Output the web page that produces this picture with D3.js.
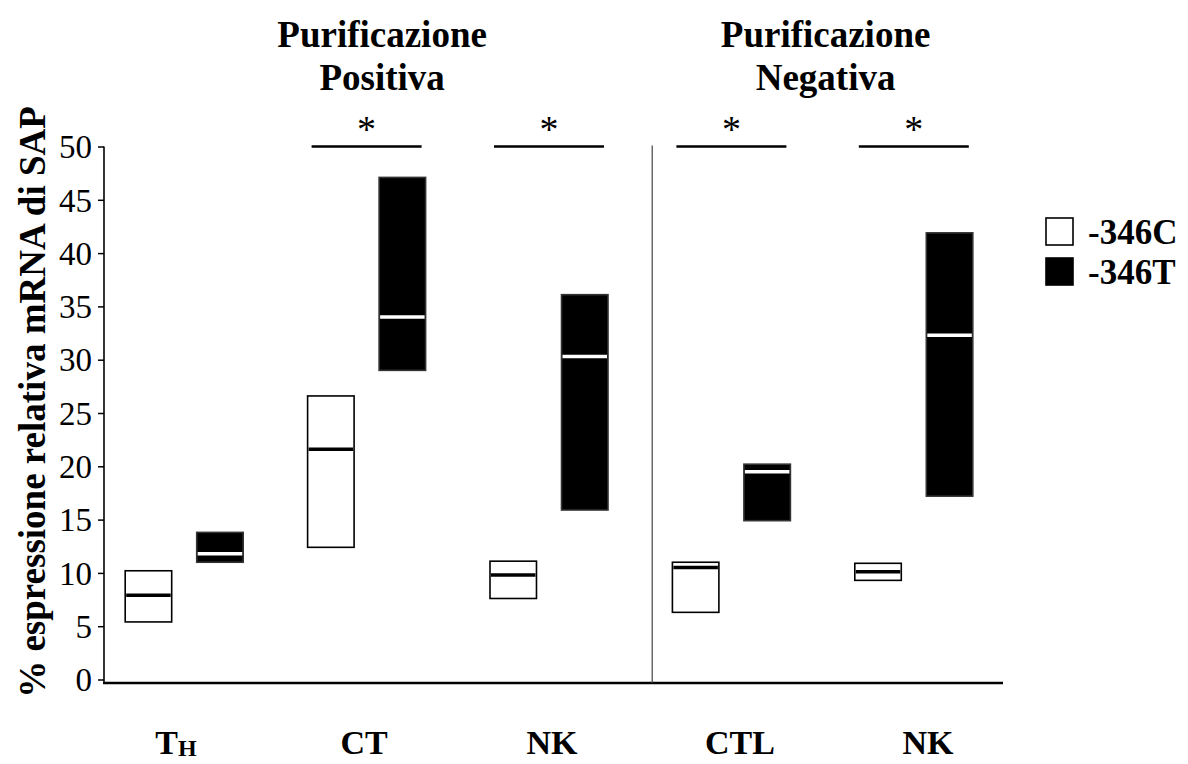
<!DOCTYPE html>
<html>
<head>
<meta charset="utf-8">
<script src="https://cdnjs.cloudflare.com/ajax/libs/d3/7.8.5/d3.min.js"></script>
<style>
  body { margin: 0; background: #fff; }
  text { font-family: "Liberation Serif", "Times New Roman", serif; fill: #000; }
</style>
</head>
<body>
<div id="chart"></div>
<script>

// cell populations along x
const groups      = ['TH', 'CT', 'NK', 'CTL', 'NK2'];
const groupLabels = ['T', 'CT', 'NK', 'CTL', 'NK'];
const groupSubs   = ['H', '', '', '', ''];

const alleles = ['-346C', '-346T'];

// -346C : min / median / max
const lowC  = [5.4, 12.4, 7.6, 6.3, 9.3];
const medC  = [7.9, 21.6, 9.8, 10.5, 10.1];
const highC = [10.2, 26.6, 11.1, 11.0, 10.9];

// -346T : min / median / max
const lowT  = [11.0, 29.0, 15.9, 14.9, 17.2];
const medT  = [11.8, 34.0, 30.3, 19.5, 32.3];
const highT = [13.8, 47.1, 36.1, 20.2, 41.9];

const panelTitles = [['Purificazione', 'Positiva'], ['Purificazione', 'Negativa']];

// groups with a significant difference
const sigGroups = ['CT', 'NK', 'CTL', 'NK2'];

const yTicks = [0, 5, 10, 15, 20, 25, 30, 35, 40, 45, 50];
const yTitle = '% espressione relativa mRNA di SAP';


class SapChart {

  constructor(_parentContainer) {
    this.parentContainer = _parentContainer;

    this.widthTotal  = 1188;
    this.heightTotal = 764;

    this.svg = d3.select(this.parentContainer)
        .append('svg')
        .attr('width', this.widthTotal)
        .attr('height', this.heightTotal);

    this.rows = [];
    groups.forEach((g, i) => {
      this.rows.push({ group: g, allele: alleles[0], low: lowC[i], med: medC[i], high: highC[i] });
      this.rows.push({ group: g, allele: alleles[1], low: lowT[i], med: medT[i], high: highT[i] });
    });

    this.createScales();
    this.addAxes();
    this.addBoxes();
    this.addAnnotations();
    this.addLegend();
  }


  createScales() {
    this.axisX  = 104;
    this.xAxisY = 683;

    this.yScale = d3.scaleLinear()
        .domain([0, 50])
        .range([679.5, 146.5]);

    this.xScale = d3.scaleBand()
        .domain(groups)
        .range([93, 1005])
        .padding(0);

    // C / T inside one group, centred on the group
    this.xInner = d3.scaleBand()
        .domain(alleles)
        .range([-59, 59])
        .paddingInner(0.35);

    // labels under the axis sit a bit more evenly than the boxes
    this.xLabel = d3.scalePoint()
        .domain(groups)
        .range([176, 928]);

    this.center = g => this.xScale(g) + this.xScale.bandwidth() / 2;
  }


  addAxes() {
    const yAxisCall = d3.axisLeft(this.yScale)
        .tickValues(yTicks)
        .tickSize(6)
        .tickSizeOuter(0)
        .tickPadding(6);

    const yAxis = this.svg.append('g')
        .attr('class', 'y-axis')
        .attr('transform', `translate(${this.axisX}, 0)`)
        .call(yAxisCall);

    yAxis.select('.domain').remove();
    yAxis.selectAll('line').attr('stroke', '#000').attr('stroke-width', 1.5);
    yAxis.selectAll('text')
        .style('font-family', '"Liberation Serif", serif')
        .style('font-size', '33px')
        .attr('dy', '0.34em');

    // axis lines
    this.svg.append('line')
        .attr('x1', this.axisX).attr('x2', this.axisX)
        .attr('y1', this.yScale(50)).attr('y2', this.xAxisY)
        .attr('stroke', '#000').attr('stroke-width', 1.6);

    this.svg.append('line')
        .attr('x1', this.axisX - 1).attr('x2', 1003)
        .attr('y1', this.xAxisY).attr('y2', this.xAxisY)
        .attr('stroke', '#000').attr('stroke-width', 2.5);

    this.svg.append('text')
        .attr('transform', `translate(45, 402) rotate(-90)`)
        .attr('text-anchor', 'middle')
        .style('font-size', '37px')
        .style('font-weight', 'bold')
        .text(yTitle);

    // group labels under the axis
    const lab = this.svg.selectAll('.group-label')
        .data(groups)
        .enter().append('text')
        .attr('class', 'group-label')
        .attr('x', d => this.xLabel(d))
        .attr('y', 754)
        .attr('text-anchor', 'middle')
        .style('font-size', '34px')
        .style('font-weight', 'bold');

    lab.append('tspan').text((d, i) => groupLabels[i]);
    lab.append('tspan')
        .attr('dy', 2)
        .style('font-size', '24px')
        .text((d, i) => groupSubs[i]);
  }


  addBoxes() {
    const w = this.xInner.bandwidth();
    const boxX = d => this.center(d.group) + this.xInner(d.allele);

    const box = this.svg.selectAll('.box')
        .data(this.rows)
        .enter().append('g')
        .attr('class', 'box');

    box.append('rect')
        .attr('x', d => boxX(d))
        .attr('y', d => this.yScale(d.high))
        .attr('width', w)
        .attr('height', d => this.yScale(d.low) - this.yScale(d.high))
        .attr('fill', d => d.allele === alleles[0] ? '#fff' : '#000')
        .attr('stroke', d => d.allele === alleles[0] ? '#000' : '#333')
        .attr('stroke-width', 1.6);

    box.append('line')
        .attr('x1', d => boxX(d) + 1)
        .attr('x2', d => boxX(d) + w - 1)
        .attr('y1', d => this.yScale(d.med))
        .attr('y2', d => this.yScale(d.med))
        .attr('stroke', d => d.allele === alleles[0] ? '#000' : '#fff')
        .attr('stroke-width', 3.5);
  }


  addAnnotations() {
    // vertical divider between positive / negative purification
    const divX = this.xScale('CTL') + 12;
    this.svg.append('line')
        .attr('x1', divX).attr('x2', divX)
        .attr('y1', this.yScale(50) - 1).attr('y2', this.xAxisY)
        .attr('stroke', '#444').attr('stroke-width', 1.2);

    const panelCenters = [(this.axisX + divX) / 2 + 4, (divX + 1003) / 2 - 2];

    panelTitles.forEach((lines, p) => {
      lines.forEach((t, j) => {
        this.svg.append('text')
            .attr('x', panelCenters[p])
            .attr('y', 47 + j * 43)
            .attr('text-anchor', 'middle')
            .style('font-size', '37px')
            .style('font-weight', 'bold')
            .text(t);
      });
    });

    // significance bars
    const sig = this.svg.selectAll('.sig')
        .data(sigGroups)
        .enter().append('g')
        .attr('class', 'sig');

    sig.append('line')
        .attr('x1', d => this.center(d) - 55)
        .attr('x2', d => this.center(d) + 55)
        .attr('y1', this.yScale(50))
        .attr('y2', this.yScale(50))
        .attr('stroke', '#000')
        .attr('stroke-width', 2.5);

    sig.append('text')
        .attr('x', d => this.center(d))
        .attr('y', 142)
        .attr('text-anchor', 'middle')
        .style('font-size', '38px')
        .text('*');
  }


  addLegend() {
    const legend = this.svg.append('g')
        .attr('transform', 'translate(1046, 218)');

    alleles.forEach((a, idx) => {
      const row = legend.append('g')
          .attr('transform', `translate(0, ${idx * 40})`);

      row.append('rect')
          .attr('width', 27)
          .attr('height', 27)
          .attr('fill', idx === 0 ? '#fff' : '#000')
          .attr('stroke', '#000')
          .attr('stroke-width', 1.6);

      row.append('text')
          .attr('x', 42)
          .attr('y', 26)
          .style('font-size', '35px')
          .style('font-weight', 'bold')
          .text(a);
    });
  }
}

new SapChart('#chart');
</script>
</body>
</html>
